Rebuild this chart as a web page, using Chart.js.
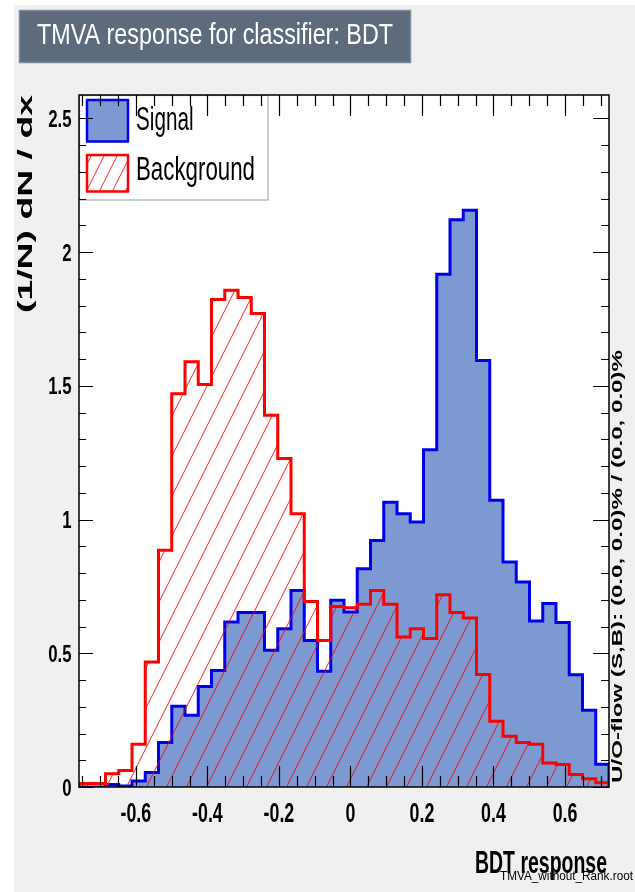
<!DOCTYPE html>
<html>
<head>
<meta charset="utf-8">
<title>TMVA response for classifier: BDT</title>
<script src="https://cdn.jsdelivr.net/npm/chart.js@4.4.1/dist/chart.umd.min.js"></script>
<style>
  html, body { margin: 0; padding: 0; background: #ffffff; }
</style>
</head>
<body>
<canvas id="c" width="635" height="892"></canvas>
<script>
// BDT response, 40 bins, each histogram normalised to unit area
const xMin = -0.759;
const xMax = 0.723;
const nBins = 40;

const signal = [
  0, 0, 0.009, 0.004, 0.022, 0.054, 0.166, 0.302, 0.268, 0.376,
  0.436, 0.617, 0.652, 0.652, 0.511, 0.592, 0.735, 0.548, 0.433, 0.698,
  0.654, 0.816, 0.922, 1.065, 1.022, 0.991, 1.261, 1.917, 2.121, 2.156,
  1.595, 1.072, 0.841, 0.766, 0.621, 0.686, 0.615, 0.420, 0.287, 0.085
];
const background = [
  0.013, 0.013, 0.050, 0.062, 0.160, 0.467, 0.885, 1.470, 1.590, 1.505,
  1.823, 1.857, 1.830, 1.770, 1.390, 1.228, 1.022, 0.694, 0.548, 0.675,
  0.670, 0.683, 0.735, 0.683, 0.561, 0.592, 0.555, 0.719, 0.652, 0.632,
  0.421, 0.246, 0.190, 0.166, 0.160, 0.090, 0.084, 0.047, 0.031, 0.016
];

const xTickValues = [-0.6, -0.4, -0.2, 0, 0.2, 0.4, 0.6];
const xTickLabels = ['-0.6', '-0.4', '-0.2', '0', '0.2', '0.4', '0.6'];
const yTickValues = [0, 0.5, 1, 1.5, 2, 2.5];
const yTickLabels = ['0', '0.5', '1', '1.5', '2', '2.5'];

// TMVA style colours
const cCanvas = '#f0f0f0';
const cFrameFill = '#fffffd';
const cTitleBox = '#5d6b7d';
const cTitleBorder = '#7d8b9d';
const cSignalLine = '#0000ee';
const cSignalFill = '#7d99d1';
const cBackgroundLine = '#ff0000';

const yMax = 1.2 * Math.max(...signal, ...background);
const binW = (xMax - xMin) / nBins;

// outline of a histogram: both edges of every bin, closed down to zero
function histPoints(values) {
  const pts = [{ x: xMin, y: 0 }];
  values.forEach(function (v, i) {
    pts.push({ x: xMin + i * binW, y: v });
    pts.push({ x: xMin + (i + 1) * binW, y: v });
  });
  pts.push({ x: xMax, y: 0 });
  return pts;
}

// ROOT style 3004-like "/" hatching, w = horizontal spacing
function makeHatch(w) {
  const h = 2 * w;
  const c = document.createElement('canvas');
  c.width = w;
  c.height = h;
  const g = c.getContext('2d');
  g.strokeStyle = 'rgba(255,0,0,0.85)';
  g.lineWidth = 1;
  [-w, 0, w].forEach(function (dx) {
    g.beginPath();
    g.moveTo(dx, h);
    g.lineTo(dx + w, 0);
    g.stroke();
  });
  return g.createPattern(c, 'repeat');
}
const hatch = makeHatch(20);
const legendHatch = makeHatch(13);

const FONT = '"Liberation Sans", Arial, sans-serif';

function drawText(ctx, text, x, y, o) {
  ctx.save();
  ctx.translate(x, y);
  if (o.rot) ctx.rotate(o.rot);
  ctx.scale(o.sx || 1, 1);
  ctx.font = (o.weight || 'normal') + ' ' + o.size + 'px ' + FONT;
  ctx.textAlign = o.align || 'left';
  ctx.textBaseline = 'alphabetic';
  ctx.fillStyle = o.color || '#000';
  ctx.fillText(text, 0, 0);
  ctx.restore();
}

// squeeze a string to a given length and cap height (ROOT text is narrow)
function fitText(ctx, text, x, y, len, cap, o) {
  const size = cap / 0.716;
  ctx.save();
  ctx.font = (o.weight || 'normal') + ' ' + size + 'px ' + FONT;
  const w = ctx.measureText(text).width;
  ctx.restore();
  drawText(ctx, text, x, y, Object.assign({}, o, { size: size, sx: len / w }));
}

const rootStyle = {
  id: 'rootStyle',
  beforeDraw(chart) {
    const ctx = chart.ctx;
    const a = chart.chartArea;
    ctx.save();
    ctx.fillStyle = '#ffffff';
    ctx.fillRect(0, 0, chart.width, chart.height);
    ctx.fillStyle = cCanvas;
    ctx.fillRect(14, 5, chart.width - 14, chart.height - 5);

    // title box
    ctx.fillStyle = cTitleBox;
    ctx.fillRect(19, 10, 392, 53);
    ctx.strokeStyle = cTitleBorder;
    ctx.lineWidth = 1.5;
    ctx.strokeRect(19.5, 10.5, 391, 52);
    ctx.restore();
    fitText(ctx, 'TMVA response for classifier: BDT', 37, 43.5, 356, 21.6, { color: '#ffffff' });

    ctx.save();
    ctx.fillStyle = cFrameFill;
    ctx.fillRect(a.left, a.top, a.right - a.left, a.bottom - a.top);
    ctx.restore();
  },
  afterDatasetsDraw(chart) {
    const ctx = chart.ctx;
    const a = chart.chartArea;
    const xs = chart.scales.x;
    const ys = chart.scales.y;
    const sig = chart.data.datasets[1];
    const bkg = chart.data.datasets[0];

    // legend
    ctx.save();
    ctx.fillStyle = '#ffffff';
    ctx.fillRect(a.left, a.top, 189, 105);
    ctx.strokeStyle = '#a4acb8';
    ctx.lineWidth = 1.2;
    ctx.strokeRect(a.left + 0.5, a.top + 0.5, 188.5, 104.5);

    ctx.lineJoin = 'round';
    ctx.fillStyle = sig.backgroundColor;
    ctx.fillRect(87, 100, 41, 41.5);
    ctx.strokeStyle = sig.borderColor;
    ctx.lineWidth = 2.5;
    ctx.strokeRect(87, 100, 41, 41.5);

    ctx.fillStyle = '#ffffff';
    ctx.fillRect(87, 155, 41, 36.5);
    ctx.fillStyle = legendHatch;
    ctx.fillRect(87, 155, 41, 36.5);
    ctx.strokeStyle = bkg.borderColor;
    ctx.strokeRect(87, 155, 41, 36.5);
    ctx.restore();
    fitText(ctx, sig.label, 136, 129.5, 57.5, 24, {});
    fitText(ctx, bkg.label, 136, 180, 119, 23.3, {});

    // frame and ticks
    ctx.save();
    ctx.strokeStyle = '#000000';
    ctx.lineWidth = 1.2;
    ctx.beginPath();
    function tickX(v, len) {
      const px = Math.round(xs.getPixelForValue(v)) + 0.5;
      ctx.moveTo(px, a.bottom);
      ctx.lineTo(px, a.bottom - len);
      ctx.moveTo(px, a.top);
      ctx.lineTo(px, a.top + len);
    }
    function tickY(v, lenL, lenR) {
      const py = Math.round(ys.getPixelForValue(v)) + 0.5;
      ctx.moveTo(a.left, py);
      ctx.lineTo(a.left + lenL, py);
      ctx.moveTo(a.right, py);
      ctx.lineTo(a.right - lenR, py);
    }
    for (let k = -15; k <= 14; k++) {
      const v = k * 0.05;
      if (v < xMin || v > xMax) continue;
      const major = xTickValues.some(function (t) { return Math.abs(t - v) < 1e-6; });
      tickX(v, major ? 21 : 11);
    }
    for (let k = 0; k <= 25; k++) {
      const v = k * 0.1;
      if (v > yMax) continue;
      const major = yTickValues.some(function (t) { return Math.abs(t - v) < 1e-6; });
      tickY(v, major ? 14 : 7, major ? 16 : 8);
    }
    ctx.stroke();
    ctx.lineWidth = 1.5;
    ctx.strokeRect(a.left, a.top, a.right - a.left, a.bottom - a.top);
    ctx.restore();

    // tick labels
    xTickValues.forEach(function (v, i) {
      drawText(ctx, xTickLabels[i], xs.getPixelForValue(v), 822,
        { size: 27, weight: 'bold', sx: 0.66, align: 'center' });
    });
    yTickValues.forEach(function (v, i) {
      drawText(ctx, yTickLabels[i], 71.5, ys.getPixelForValue(v) + 8.6,
        { size: 24, weight: 'bold', sx: 0.7, align: 'right' });
    });

    // axis titles and side notes
    fitText(ctx, '(1/N) dN / dx', 32, 313, 218, 15, { weight: 'bold', rot: -Math.PI / 2 });
    fitText(ctx, 'BDT response', 475, 873, 132, 23, { weight: 'bold' });
    fitText(ctx, 'U/O-flow (S,B): (0.0, 0.0)% / (0.0, 0.0)%', 622, 783, 433, 10.5,
      { weight: 'bold', rot: -Math.PI / 2 });
    fitText(ctx, 'TMVA_without_Rank.root', 500, 880, 133, 8.5, {});
  }
};

new Chart(document.getElementById('c').getContext('2d'), {
  type: 'line',
  data: {
    datasets: [
      {
        label: 'Background',
        data: histPoints(background),
        borderColor: cBackgroundLine,
        backgroundColor: hatch,
        borderWidth: 3,
        fill: 'origin',
        pointRadius: 0,
        tension: 0,
        borderJoinStyle: 'miter',
        order: 0
      },
      {
        label: 'Signal',
        data: histPoints(signal),
        borderColor: cSignalLine,
        backgroundColor: cSignalFill,
        borderWidth: 3,
        fill: 'origin',
        pointRadius: 0,
        tension: 0,
        borderJoinStyle: 'miter',
        order: 1
      }
    ]
  },
  options: {
    responsive: false,
    animation: false,
    events: [],
    layout: { padding: { left: 79, right: 26, top: 95, bottom: 105 } },
    scales: {
      x: { type: 'linear', min: xMin, max: xMax, display: false },
      y: { type: 'linear', min: 0, max: yMax, display: false }
    },
    plugins: {
      legend: { display: false },
      tooltip: { enabled: false },
      title: { display: false }
    }
  },
  plugins: [rootStyle]
});
</script>
</body>
</html>
